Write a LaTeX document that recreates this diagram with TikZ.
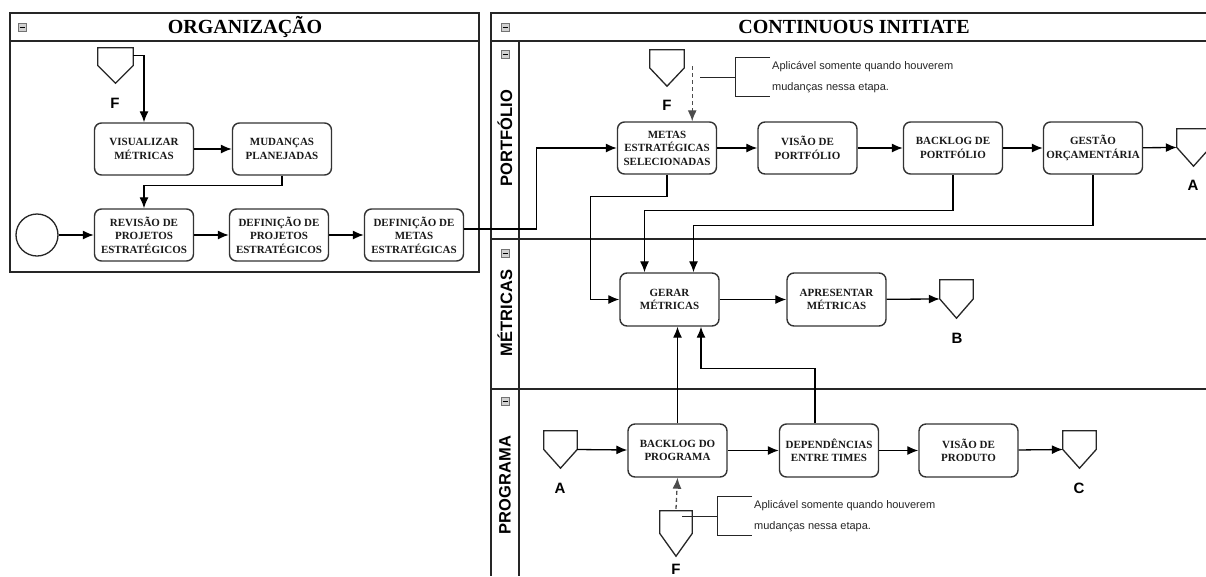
\documentclass[tikz,border=0pt]{standalone}
\usepackage{fontspec}
\setmainfont{Liberation Serif}
\setsansfont{Liberation Sans}
\usetikzlibrary{arrows.meta,calc}

% outline of an off-page connector (pentagon pointing down)
\newcommand{\offpageoutline}[1]{%
  \draw[poolline] (#1.north west) -- (#1.north east) -- (#1.east) -- (#1.south) -- (#1.west) -- cycle;}

\tikzset{
  poolline/.style={draw=black!85, line width=1.3pt},
  task/.style={draw=black!80, line width=1.4pt, rounded corners=7pt,
    minimum width=99pt, minimum height=52pt, align=center, inner sep=1pt,
    font=\bfseries\fontsize{11}{13.5}\selectfont, text=black!90},
  offp/.style={minimum width=33pt, minimum height=37pt, inner sep=0pt},
  lbl/.style={font=\sffamily\bfseries\fontsize{15}{15}\selectfont, inner sep=0pt},
  lanelabel/.style={font=\sffamily\bfseries\fontsize{16.5}{16.5}\selectfont, inner sep=0pt, rotate=90},
  pooltitle/.style={font=\bfseries\fontsize{20}{20}\selectfont, inner sep=0pt},
  note/.style={font=\sffamily\fontsize{11}{21}\selectfont, align=left, text=black!85,
    inner xsep=2pt, inner ysep=0pt, minimum height=38pt, anchor=west},
  arr/.style={draw=black, line width=1.3pt, -{Latex[length=11pt,width=9pt]}},
  dasharr/.style={arr, dash pattern=on 4pt off 3pt, draw=black!70},
  collapsebox/.pic={
    \draw[draw=black!55, fill=black!18, line width=0.6pt] (-4,-4) rectangle (4,4);
    \draw[black, line width=1pt] (-2.5,0) -- (2.5,0);
  },
}

\begin{document}
\begin{tikzpicture}[x=1pt,y=-1pt]
\useasboundingbox (0,0) rectangle (1206,576);
\fill[white] (0,0) rectangle (1206,576);

% ---------- pool: ORGANIZAÇÃO ----------
\draw[poolline] (10,13) rectangle (479,272);
\draw[poolline] (10,41) -- (479,41);
\pic at (22,27) {collapsebox};
\node[pooltitle] (orgtitle) at (245,27) {ORGANIZAÇÃO};

% ---------- pool: CONTINUOUS INITIATE ----------
\draw[poolline] (1206,13) -- (491,13) -- (491,576);
\draw[poolline] (491,41) -- (1206,41);
\draw[poolline] (519,41) -- (519,576);
\draw[poolline] (491,239) -- (1206,239);
\draw[poolline] (491,389) -- (1206,389);
\pic at (505,27) {collapsebox};
\pic at (505,54) {collapsebox};
\pic at (505,253) {collapsebox};
\pic at (505,401) {collapsebox};
\node[pooltitle] (cititle) at (854,27) {CONTINUOUS INITIATE};
\node[lanelabel] (lportf) at (505,138) {PORTFÓLIO};
\node[lanelabel] (lmetr) at (505,313) {MÉTRICAS};
\node[lanelabel] (lprog) at (505,485) {PROGRAMA};

% ---------- organização: nodes ----------
\node[circle, draw=black!85, line width=1.3pt, minimum size=42pt, inner sep=0pt] (start) at (37,235) {};
\node[offp, minimum width=35pt, minimum height=35pt] (F1) at (115.5,65.5) {};
\offpageoutline{F1}
\node[lbl] (F1l) at (115,103) {F};
\node[task] (vis) at (144,149) {VISUALIZAR\\MÉTRICAS};
\node[task] (mud) at (282,149) {MUDANÇAS\\PLANEJADAS};
\node[task] (rev) at (144,235) {REVISÃO DE\\PROJETOS\\ESTRATÉGICOS};
\node[task] (defp) at (279,235) {DEFINIÇÃO DE\\PROJETOS\\ESTRATÉGICOS};
\node[task] (defm) at (414,235) {DEFINIÇÃO DE\\METAS\\ESTRATÉGICAS};

% ---------- portfólio: nodes ----------
\node[offp, minimum width=34pt, minimum height=36pt] (Fpf) at (667,68) {};
\offpageoutline{Fpf}
\node[lbl] (Fpfl) at (667,105) {F};
\node[task] (metas) at (667,148) {METAS\\ESTRATÉGICAS\\SELECIONADAS};
\node[task] (visp) at (807.5,148) {VISÃO DE\\PORTFÓLIO};
\node[task] (backp) at (953,148) {BACKLOG DE\\PORTFÓLIO};
\node[task] (gest) at (1093,148) {GESTÃO\\ORÇAMENTÁRIA};
\node[offp] (Apf) at (1193.5,147.5) {};
\offpageoutline{Apf}
\node[lbl] (Apfl) at (1193,185) {A};
\node[note] (note1) at (770,77) {Aplicável somente quando houverem\\mudanças nessa etapa.};
\draw[poolline, line width=1pt] (note1.north west) -- ++(-35,0) -- ($(note1.south west)+(-35,0)$) -- (note1.south west);
\draw[poolline, line width=1pt] ($(note1.west)+(-35,0)$) -- ++(-35,0);

% ---------- métricas: nodes ----------
\node[task, minimum height=53pt] (gerar) at (669.5,299.5) {GERAR\\MÉTRICAS};
\node[task, minimum height=53pt] (apres) at (836.5,299.5) {APRESENTAR\\MÉTRICAS};
\node[offp, minimum height=38pt] (Bm) at (956.5,299) {};
\offpageoutline{Bm}
\node[lbl] (Bml) at (957,338) {B};

% ---------- programa: nodes ----------
\node[offp] (Apg) at (560.5,449.5) {};
\offpageoutline{Apg}
\node[lbl] (Apgl) at (560,488) {A};
\node[task, minimum height=53pt] (backprog) at (677.5,450.5) {BACKLOG DO\\PROGRAMA};
\node[task, minimum height=53pt] (dep) at (829,450.5) {DEPENDÊNCIAS\\ENTRE TIMES};
\node[task, minimum height=53pt] (visprod) at (968.5,450.5) {VISÃO DE\\PRODUTO};
\node[offp] (Cp) at (1079.5,449.5) {};
\offpageoutline{Cp}
\node[lbl] (Cpl) at (1079,488) {C};
\node[offp, minimum width=32pt, minimum height=45pt] (Fpg) at (676,533.5) {};
\offpageoutline{Fpg}
\node[lbl] (Fpgl) at (676,569) {F};
\node[note] (note2) at (752,516) {Aplicável somente quando houverem\\mudanças nessa etapa.};
\draw[poolline, line width=1pt] (note2.north west) -- ++(-35,0) -- ($(note2.south west)+(-35,0)$) -- (note2.south west);
\draw[poolline, line width=1pt] ($(note2.west)+(-35,0)$) -- ++(-35,0);

% ---------- connectors: organização ----------
\draw[arr] ([yshift=-8pt]F1.north east) -| (vis.north);
\draw[arr] (vis) -- (mud);
\draw[arr] (mud.south) -- ++(0,10) -| (rev.north);
\draw[arr] (start) -- (rev);
\draw[arr] (rev) -- (defp);
\draw[arr] (defp) -- (defm);
\draw[arr] ([yshift=6pt]defm.east) -| ($(metas.west)+(-80,0)$) -- (metas.west);

% ---------- connectors: portfólio ----------
\draw[dasharr] ([xshift=8pt, yshift=2pt]Fpf.east) -- ([xshift=8pt]Fpf.east |- metas.north);
\draw[arr] (metas) -- (visp);
\draw[arr] (visp) -- (backp);
\draw[arr] (backp) -- (gest);
\draw[arr] (gest) -- (Apf.west);
\draw[arr] (metas.south) -- ++(0,22) -| ($(gerar.west)+(-29,0)$) -- (gerar.west);
\draw[arr] (backp.south) -- ++(0,36) -| ([xshift=-25pt]gerar.north);
\draw[arr] (gest.south) -- ++(0,51) -| ([xshift=24pt]gerar.north);

% ---------- connectors: métricas ----------
\draw[arr] (gerar) -- (apres);
\draw[arr] (apres) -- (Bm.west);

% ---------- connectors: programa ----------
\draw[arr] (Apg.east) -- (backprog);
\draw[arr] (backprog) -- (dep);
\draw[arr] (dep) -- (visprod);
\draw[arr] (visprod) -- (Cp.west);
\draw[arr] (backprog.north) -- (backprog.north |- gerar.south);
\draw[arr] ([xshift=-14pt]dep.north) -- ++(0,-55) -| ([xshift=31.5pt]gerar.south);
\draw[dasharr] ([yshift=2pt]Fpg.north) -- (backprog.south);
\end{tikzpicture}
\end{document}
